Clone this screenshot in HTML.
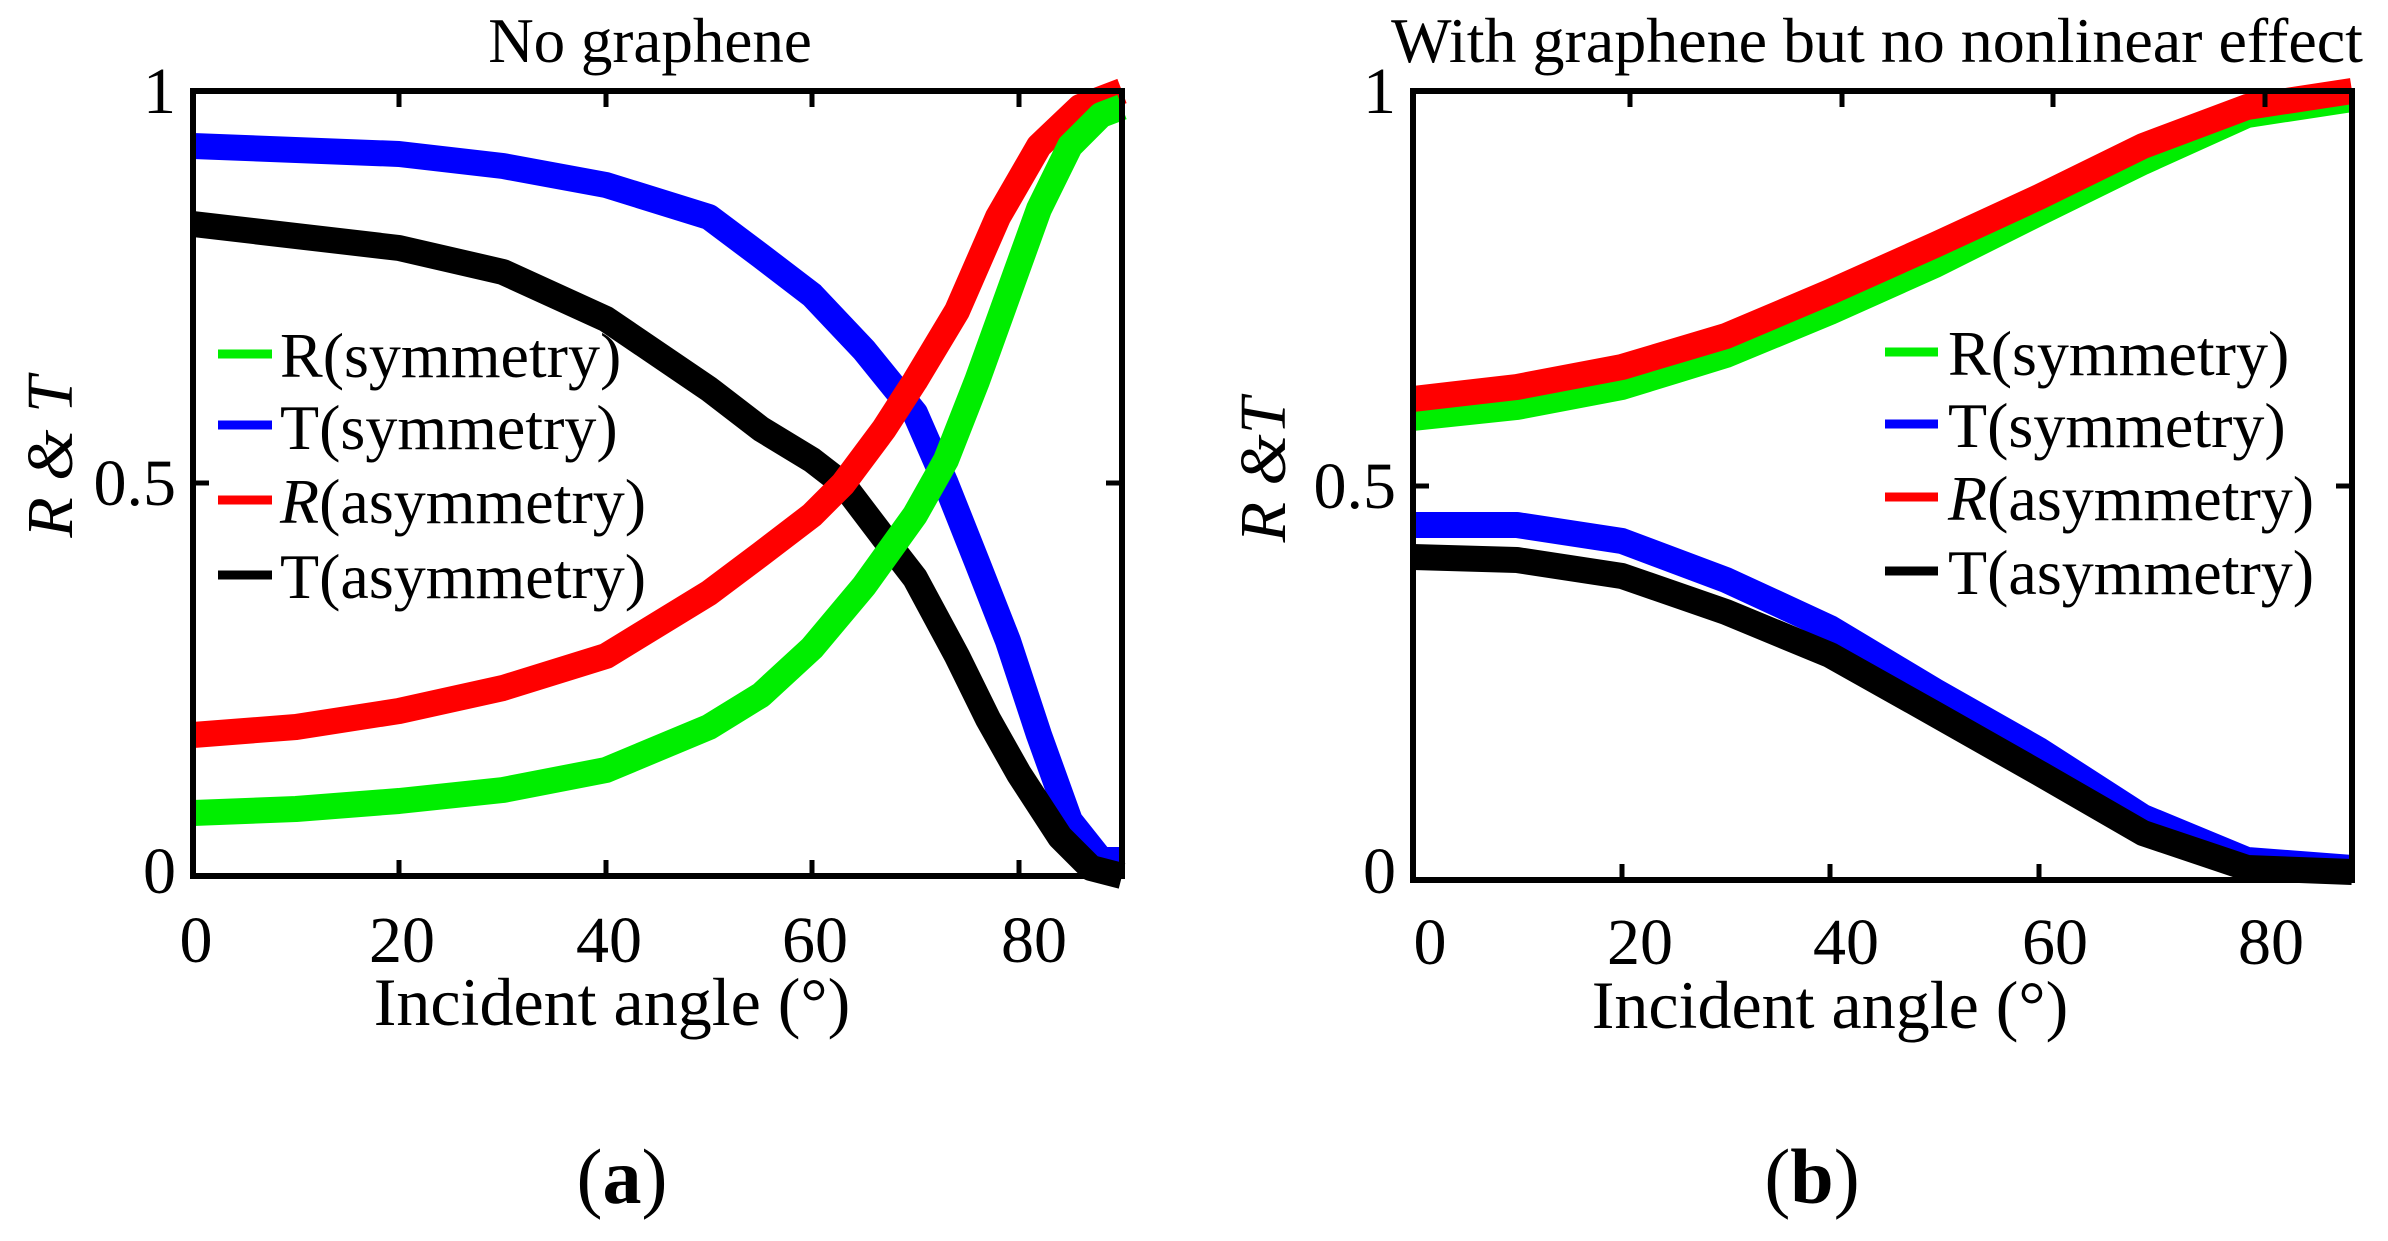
<!DOCTYPE html>
<html><head><meta charset="utf-8"><style>
body{margin:0;background:#fff}
svg text{font-family:"Liberation Serif",serif;fill:#000}
</style></head><body>
<svg width="2388" height="1236" viewBox="0 0 2388 1236" xmlns="http://www.w3.org/2000/svg">
<g fill="none" stroke-linejoin="round" stroke-linecap="butt" stroke-width="26">
<polyline stroke="#0000ff" points="193,146 399,154 503,166 606,185 709,217 761,256 812,295 864,350 915,413 946,484 977,562 1008,641 1039,735 1070,821 1101,860 1122,860"/>
<polyline stroke="#000" points="193,224 399,248 503,272 606,319 709,389 761,429 812,460 843,484 884,538 915,578 957,656 988,719 1019,774 1060,837 1091,868 1122,876"/>
<polyline stroke="#ff0000" points="193,735 296,727 399,711 503,688 606,656 709,593 761,554 812,515 843,484 884,429 915,381 957,311 998,217 1039,146 1080,107 1122,91"/>
<polyline stroke="#00ee00" points="193,813 296,809 399,801 503,790 606,770 709,727 761,695 812,648 864,586 915,515 946,460 977,381 1008,295 1039,209 1070,146 1101,115 1122,107"/>
</g>
<rect x="193" y="91" width="929" height="785" fill="none" stroke="#000" stroke-width="6"/>
<g stroke="#000" stroke-width="5">
<line x1="399" y1="876" x2="399" y2="860"/><line x1="606" y1="876" x2="606" y2="860"/><line x1="812" y1="876" x2="812" y2="860"/><line x1="1019" y1="876" x2="1019" y2="860"/>
<line x1="399" y1="91" x2="399" y2="107"/><line x1="606" y1="91" x2="606" y2="107"/><line x1="812" y1="91" x2="812" y2="107"/><line x1="1019" y1="91" x2="1019" y2="107"/>
<line x1="193" y1="483" x2="209" y2="483"/><line x1="1122" y1="483" x2="1106" y2="483"/>
</g>
<g font-size="66">
<text x="650" y="62" text-anchor="middle" font-size="63">No graphene</text>
<text x="176" y="113" text-anchor="end">1</text>
<text x="176" y="505" text-anchor="end">0.5</text>
<text x="176" y="893" text-anchor="end">0</text>
<text x="196" y="962" text-anchor="middle">0</text>
<text x="402" y="962" text-anchor="middle">20</text>
<text x="609" y="962" text-anchor="middle">40</text>
<text x="815" y="962" text-anchor="middle">60</text>
<text x="1034" y="962" text-anchor="middle">80</text>
<text x="612" y="1025" text-anchor="middle" font-size="68">Incident angle (°)</text>
<text transform="translate(72,457) rotate(-90)" text-anchor="middle" font-style="italic">R &amp; T</text>
<text x="622" y="1203" text-anchor="middle" font-size="78"><tspan>(</tspan><tspan font-weight="bold">a</tspan><tspan>)</tspan></text>
</g>
<g stroke-width="9">
<line x1="218" y1="354" x2="272" y2="354" stroke="#00ee00"/>
<line x1="218" y1="425" x2="272" y2="425" stroke="#0000ff"/>
<line x1="218" y1="500" x2="272" y2="500" stroke="#ff0000"/>
<line x1="218" y1="575" x2="272" y2="575" stroke="#000"/>
</g>
<g font-size="64">
<text x="280" y="377">R(symmetry)</text>
<text x="280" y="449">T(symmetry)</text>
<text x="280" y="523"><tspan font-style="italic">R</tspan>(asymmetry)</text>
<text x="280" y="598">T(asymmetry)</text>
</g>

<g fill="none" stroke-linejoin="round" stroke-width="26">
<polyline stroke="#00ee00" points="1413,418 1517,407 1622,387 1726,355 1830,312 1935,265 2039,213 2143,162 2247,115 2352,99"/>
<polyline stroke="#ff0000" points="1413,399 1517,387 1622,367 1726,336 1830,292 1935,245 2039,197 2143,146 2247,107 2352,91"/>
<polyline stroke="#0000ff" points="1413,525 1517,525 1622,541 1726,580 1830,628 1935,691 2039,750 2143,817 2247,860 2352,868"/>
<polyline stroke="#000" points="1413,557 1517,560 1622,576 1726,612 1830,655 1935,714 2039,773 2143,833 2247,868 2352,872"/>
</g>
<rect x="1413" y="91" width="939" height="789" fill="none" stroke="#000" stroke-width="6"/>
<g stroke="#000" stroke-width="5">
<line x1="1622" y1="880" x2="1622" y2="864"/><line x1="1830" y1="880" x2="1830" y2="864"/><line x1="2039" y1="880" x2="2039" y2="864"/><line x1="2247" y1="880" x2="2247" y2="864"/>
<line x1="1630" y1="91" x2="1630" y2="107"/><line x1="1842" y1="91" x2="1842" y2="107"/><line x1="2053" y1="91" x2="2053" y2="107"/><line x1="2265" y1="91" x2="2265" y2="107"/>
<line x1="1413" y1="486" x2="1429" y2="486"/><line x1="2352" y1="486" x2="2336" y2="486"/>
</g>
<g font-size="66">
<text x="1877" y="62" text-anchor="middle" font-size="64">With graphene but no nonlinear effect</text>
<text x="1396" y="113" text-anchor="end">1</text>
<text x="1396" y="508" text-anchor="end">0.5</text>
<text x="1396" y="893" text-anchor="end">0</text>
<text x="1430" y="964" text-anchor="middle">0</text>
<text x="1640" y="964" text-anchor="middle">20</text>
<text x="1846" y="964" text-anchor="middle">40</text>
<text x="2055" y="964" text-anchor="middle">60</text>
<text x="2271" y="964" text-anchor="middle">80</text>
<text x="1830" y="1028" text-anchor="middle" font-size="68">Incident angle (°)</text>
<text transform="translate(1285,470) rotate(-90)" text-anchor="middle" font-style="italic">R &amp;T</text>
<text x="1812" y="1203" text-anchor="middle" font-size="78"><tspan>(</tspan><tspan font-weight="bold">b</tspan><tspan>)</tspan></text>
</g>
<g stroke-width="9">
<line x1="1885" y1="352" x2="1938" y2="352" stroke="#00ee00"/>
<line x1="1885" y1="424" x2="1938" y2="424" stroke="#0000ff"/>
<line x1="1885" y1="497" x2="1938" y2="497" stroke="#ff0000"/>
<line x1="1885" y1="571" x2="1938" y2="571" stroke="#000"/>
</g>
<g font-size="64">
<text x="1948" y="375">R(symmetry)</text>
<text x="1948" y="447">T(symmetry)</text>
<text x="1948" y="520"><tspan font-style="italic">R</tspan>(asymmetry)</text>
<text x="1948" y="594">T(asymmetry)</text>
</g>
</svg>
</body></html>
